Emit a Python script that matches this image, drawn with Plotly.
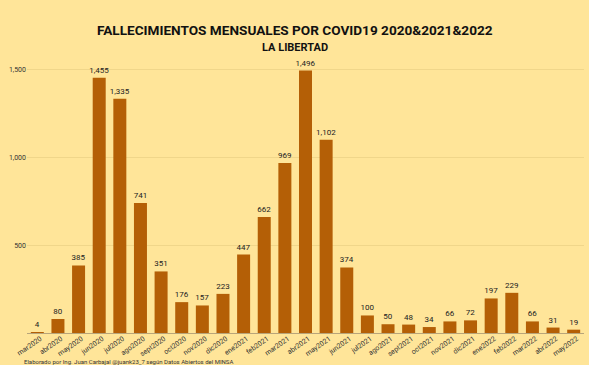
import plotly.graph_objects as go

months = ["mar2020", "abr2020", "may2020", "jun2020", "jul2020", "ago2020", "sept2020",
          "oct2020", "nov2020", "dic2020", "ene2021", "feb2021", "mar2021", "abr2021",
          "may2021", "jun2021", "jul2021", "ago2021", "sept2021", "oct2021", "nov2021",
          "dic2021", "ene2022", "feb2022", "mar2022", "abr2022", "may2022"]
deaths = [4, 80, 385, 1455, 1335, 741, 351, 176, 157, 223, 447, 662, 969, 1496,
          1102, 374, 100, 50, 48, 34, 66, 72, 197, 229, 66, 31, 19]
y_ticks = [0, 500, 1000, 1500]
y_tick_labels = ["", "500", "1,000", "1,500"]

BG = "#FFE599"
BAR = "#B45F06"

ML, MR, MT, MB = 27, 5, 62, 32
W, H = 589, 365
plot_w = W - ML - MR
plot_h = H - MT - MB


def px_x(px):
    return (px - ML) / plot_w


def px_y(py):
    return (H - MB - py) / plot_h


fig = go.Figure(go.Bar(
    x=months, y=deaths,
    marker=dict(color=BAR, line=dict(width=0)),
    texttemplate="%{y:,}", textposition="outside", constraintext="none",
    textfont=dict(size=8, color="#222222", family="Roboto"),
    cliponaxis=False,
))

fig.update_layout(
    width=W, height=H,
    paper_bgcolor=BG, plot_bgcolor=BG,
    margin=dict(l=ML, r=MR, t=MT, b=MB, autoexpand=False),
    bargap=0.37,
    showlegend=False,
    font=dict(family="Roboto", color="#333333"),
    annotations=[
        dict(text="<b>FALLECIMIENTOS MENSUALES POR COVID19 2020&2021&2022</b>",
             x=px_x(295), y=px_y(30), xref="paper", yref="paper", showarrow=False,
             yanchor="middle", font=dict(size=13.6, color="#111111", family="Roboto")),
        dict(text="<b>LA LIBERTAD</b>", x=px_x(295), y=px_y(47), xref="paper", yref="paper",
             showarrow=False, yanchor="middle",
             font=dict(size=11, color="#111111", family="Roboto")),
        dict(text="Elaborado por Ing. Juan Carbajal @juank23_7 según Datos Abiertos del MINSA",
             x=px_x(22), y=px_y(361), xref="paper", yref="paper", showarrow=False,
             xanchor="left", yanchor="middle",
             font=dict(size=6, color="#333333", family="Roboto")),
    ],
)

fig.update_xaxes(
    tickangle=-35, tickfont=dict(size=7, color="#333333"),
    showline=True, linecolor="#B8A57A", linewidth=1,
    ticks="", range=[-0.5, 26.5], automargin=False,
    ticklabelstandoff=-2, ticklabelshift=3,
)
fig.update_yaxes(
    range=[0, 1545], tickvals=y_ticks, ticktext=y_tick_labels,
    tickfont=dict(size=7, color="#333333"),
    showgrid=True, gridcolor="#F0D68A", gridwidth=1,
    zeroline=False, automargin=False,
)

fig.write_html("out.html", config={"displayModeBar": False},
               post_script="document.body.style.margin='0';")
